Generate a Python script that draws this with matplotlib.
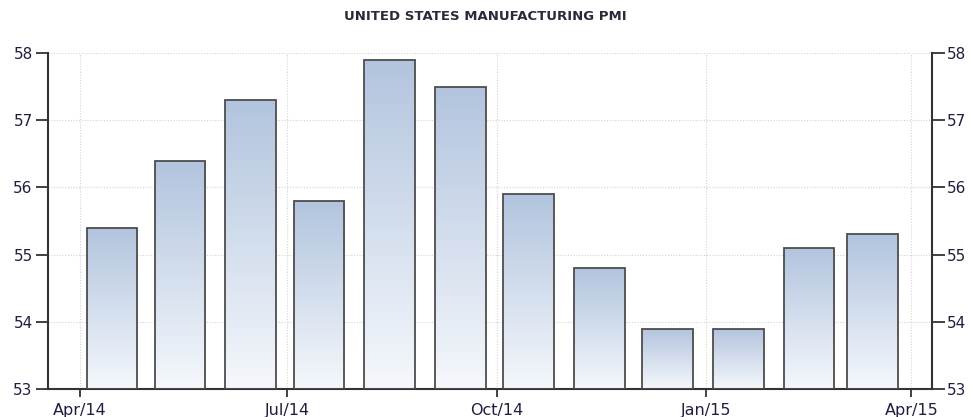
import matplotlib
matplotlib.use("Agg")
import matplotlib.pyplot as plt
import matplotlib.dates as mdates
import numpy as np
import datetime as dt
from matplotlib.colors import LinearSegmentedColormap

months = ["2014-04", "2014-05", "2014-06", "2014-07", "2014-08", "2014-09",
          "2014-10", "2014-11", "2014-12", "2015-01", "2015-02", "2015-03"]
pmi = [55.4, 56.4, 57.3, 55.8, 57.9, 57.5, 55.9, 54.8, 53.9, 53.9, 55.1, 55.3]
tick_dates = ["2014-04-01", "2014-07-01", "2014-10-01", "2015-01-01", "2015-04-01"]
tick_labels = ["Apr/14", "Jul/14", "Oct/14", "Jan/15", "Apr/15"]
y_ticks = [53, 54, 55, 56, 57, 58]
title = "UNITED STATES MANUFACTURING PMI"

W, H = 971, 417
fig = plt.figure(figsize=(W / 100, H / 100), dpi=100)
ax = fig.add_axes([48 / W, 1 - 389 / H, (932 - 48) / W, (389 - 53) / H])

centers = [mdates.date2num(dt.datetime.strptime(m + "-01", "%Y-%m-%d")) + 14 for m in months]
width = 22.2
ymin = 53

grad = np.linspace(0, 1, 256).reshape(-1, 1)
cmap = LinearSegmentedColormap.from_list("g", ["#f5f8fc", "#b2c4de"])

bars = ax.bar(centers, [v - ymin for v in pmi], bottom=ymin, width=width,
              facecolor="none", edgecolor="#4d4d4d", linewidth=1.3, zorder=3)
for b, v in zip(bars, pmi):
    b.set_joinstyle("miter")
    x0 = b.get_x()
    im = ax.imshow(grad, extent=[x0, x0 + b.get_width(), ymin, v], origin="lower",
                   cmap=cmap, aspect="auto", zorder=2)
    im.set_clip_path(b)

ax.set_xlim(mdates.date2num(dt.datetime(2014, 3, 18)), mdates.date2num(dt.datetime(2015, 4, 10)))
ax.set_ylim(53, 58)
ax.set_yticks(y_ticks)
xt = [mdates.date2num(dt.datetime.strptime(d, "%Y-%m-%d")) for d in tick_dates]
ax.set_xticks(xt)
ax.set_xticklabels(tick_labels)

ax.grid(True, color="#d2d2d2", linestyle=(0, (1, 1.5)), linewidth=0.8, zorder=0)
ax.set_axisbelow(True)

ax.spines["top"].set_visible(False)
for s in ["left", "right", "bottom"]:
    ax.spines[s].set_color("#333333")
    ax.spines[s].set_linewidth(1.5)

lab_col = "#1f1f3f"
ax.tick_params(axis="y", which="both", left=True, right=True, labelleft=True, labelright=True,
               length=9, width=1.3, color="#333333", labelsize=11, labelcolor=lab_col, pad=2)
ax.tick_params(axis="x", length=6, width=1.3, color="#333333", labelsize=11.5, labelcolor=lab_col, pad=4)

fig.text(0.5, 1 - 17 / H, title, ha="center", va="center", fontsize=9.5,
         fontweight="bold", color="#2a2a3a")

fig.savefig("out.png", dpi=100)
